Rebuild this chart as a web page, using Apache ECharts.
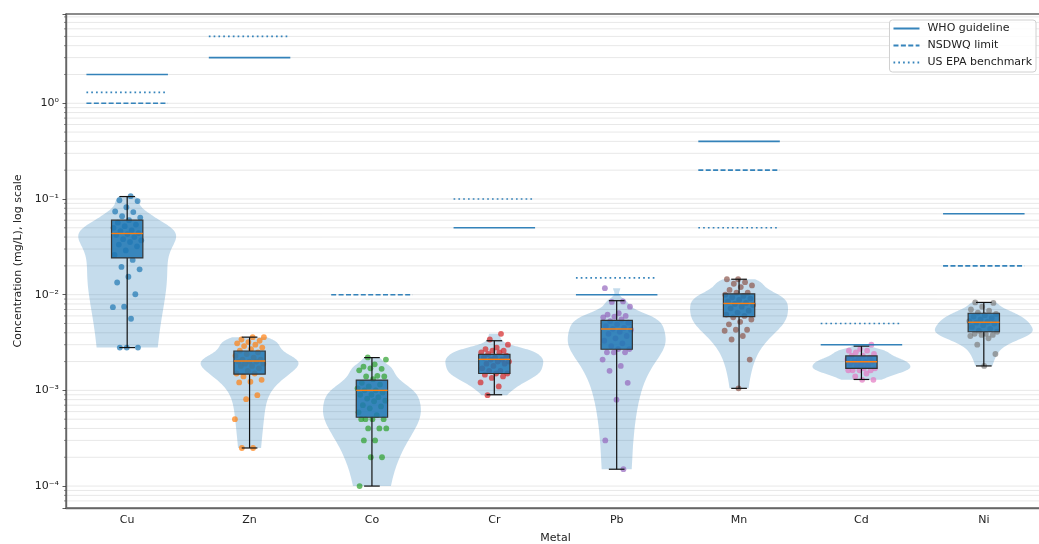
<!DOCTYPE html>
<html><head><meta charset="utf-8">
<script src="https://cdn.jsdelivr.net/npm/echarts@6/dist/echarts.min.js"></script>
<style>html,body{margin:0;padding:0;background:#fff;overflow:hidden}#chart{width:1039px;height:544px}</style>
</head><body><div id="chart"></div>
<script>
// ---------------- data ----------------
const metals = ['Cu', 'Zn', 'Co', 'Cr', 'Pb', 'Mn', 'Cd', 'Ni'];

const cuValues = [0.107,0.097,0.095,0.082,0.074,0.073,0.066,0.064,0.060,0.0565,0.054,0.052,0.050,0.047,0.046,0.044,0.043,0.042,0.040,0.038,0.037,0.0355,0.0334,0.032,0.029,0.026,0.0231,0.0195,0.0184,0.0154,0.0134,0.0101,0.0075,0.0074,0.0056,0.0028,0.0028,0.0028];
const znValues = [0.0036,0.0036,0.0034,0.0033,0.0032,0.0031,0.0030,0.0029,0.0028,0.0027,0.0026,0.0025,0.0024,0.0023,0.0022,0.0021,0.0021,0.0020,0.0020,0.0020,0.0019,0.0019,0.0018,0.0018,0.0017,0.0016,0.0015,0.0015,0.0014,0.00129,0.00123,0.00121,0.00089,0.00081,0.00050,0.00025,0.00025];
const coValues = [0.00221,0.0021,0.00187,0.00177,0.00168,0.0017,0.00162,0.00142,0.0014,0.0014,0.00131,0.0012,0.00115,0.0011,0.00105,0.001,0.001,0.00095,0.0009,0.0009,0.00085,0.00082,0.00078,0.00077,0.0007,0.00068,0.00065,0.00059,0.00055,0.0005,0.0005,0.0005,0.0005,0.0004,0.0004,0.0004,0.0003,0.0003,0.0002,0.0002,0.0001];
const crValues = [0.0039,0.0034,0.0030,0.0028,0.0027,0.0026,0.0026,0.0025,0.0025,0.0024,0.0023,0.0022,0.0022,0.0021,0.0021,0.0020,0.0020,0.0019,0.0019,0.0018,0.0017,0.0016,0.0016,0.0015,0.0015,0.00146,0.0014,0.00135,0.00121,0.0011,0.00089];
const pbValues = [0.0117,0.0085,0.0084,0.0075,0.0064,0.0062,0.0060,0.0059,0.0058,0.0055,0.0053,0.0051,0.0049,0.0047,0.0045,0.0044,0.0043,0.0041,0.0039,0.0037,0.0035,0.0033,0.0031,0.0029,0.0027,0.0027,0.0025,0.0025,0.0025,0.0021,0.0018,0.0016,0.0012,0.0008,0.0003,0.00015];
const mnValues = [0.0145,0.0145,0.0135,0.013,0.0125,0.012,0.0112,0.0105,0.0105,0.0100,0.0097,0.0094,0.0091,0.0088,0.0085,0.0082,0.0080,0.0078,0.0075,0.0072,0.0068,0.0065,0.0062,0.0060,0.0058,0.0055,0.0052,0.0049,0.0043,0.0043,0.0042,0.0037,0.0034,0.0021,0.00105];
const cdValues = [0.0030,0.0027,0.0026,0.0026,0.0025,0.0024,0.0023,0.0023,0.0022,0.0021,0.0021,0.0020,0.0020,0.0020,0.0019,0.0019,0.0018,0.0018,0.0017,0.0017,0.00162,0.00162,0.00162,0.00162,0.0015,0.0014,0.00129,0.00129];
const niValues = [0.0083,0.0082,0.0075,0.0070,0.0068,0.0065,0.0063,0.0061,0.0059,0.0057,0.0055,0.0053,0.0052,0.0051,0.0050,0.0048,0.0046,0.0044,0.0042,0.0041,0.0039,0.0039,0.0038,0.0038,0.0037,0.0035,0.0030,0.0024,0.0018];

// box statistics
const boxQ1     = [0.0242, 0.00148, 0.000524, 0.0015, 0.00269, 0.0059, 0.0017, 0.0041];
const boxMedian = [0.0436, 0.00203, 0.0010,   0.00211, 0.00438, 0.0081, 0.00199, 0.00515];
const boxQ3     = [0.060,  0.00258, 0.00128,  0.00238, 0.0054, 0.0102, 0.00229, 0.0064];
const whiskerLow  = [0.0028, 0.00025, 0.0001, 0.0009, 0.00015, 0.00105, 0.0013, 0.0018];
const whiskerHigh = [0.106, 0.0036, 0.0022, 0.0033, 0.00865, 0.0145, 0.0029, 0.0083];

// guideline values (mg/L); null = none
const whoGuideline = [2, 3, null, 0.05, 0.01, 0.4, 0.003, 0.07];
const nsdwqLimit   = [1, null, 0.01, null, null, 0.2, null, 0.02];
const epaBenchmark = [1.3, 5, null, 0.1, 0.015, 0.05, 0.005, null];

const yTickExponents = [-4, -3, -2, -1, 0];
const pointColors = ['#1f77b4','#ff7f0e','#2ca02c','#d62728','#9467bd','#8c564b','#e377c2','#7f7f7f'];

// ---------------- derived ----------------
const allValues = [cuValues, znValues, coValues, crValues, pbValues, mnValues, cdValues, niValues];
const FONT = 'DejaVu Sans';
const VIOLIN_HALF = 0.4, BOX_HALF = 0.128, CAP_HALF = 0.064, GUIDE_HALF = 0.333, BW_SCALE = 0.78;

function violinProfile(vals) {
  const n = vals.length;
  const mean = vals.reduce((a, b) => a + b, 0) / n;
  const sd = Math.sqrt(vals.reduce((a, b) => a + (b - mean) * (b - mean), 0) / (n - 1));
  const bw = sd * Math.pow(n, -0.2) * BW_SCALE;
  const lo = Math.min(...vals), hi = Math.max(...vals);
  const pts = [];
  for (let k = 0; k < 100; k++) {
    const y = lo + (hi - lo) * k / 99;
    let d = 0;
    for (const v of vals) d += Math.exp(-0.5 * ((y - v) / bw) * ((y - v) / bw));
    pts.push([y, d]);
  }
  const m = Math.max(...pts.map(p => p[1]));
  return pts.map(p => [p[0], p[1] / m * VIOLIN_HALF]);
}
const profiles = allValues.map(violinProfile);

const scatterData = [];
allValues.forEach((vals, i) => {
  vals.forEach((v, k) => {
    const jit = (((k + 1) * 0.6180339887 + i * 0.37) % 1 - 0.5) * 0.24;
    scatterData.push({ value: [i + jit, v], itemStyle: { color: pointColors[i] } });
  });
});

function guideData(arr) {
  const out = [];
  arr.forEach((v, i) => {
    if (v == null) return;
    out.push([i - GUIDE_HALF, v], [i + GUIDE_HALF, v], [i + 0.5, '-']);
  });
  return out;
}

const gridValues = [];
for (let e = -5; e <= 0; e++) for (let m = 1; m <= 9; m++) gridValues.push({ v: m * Math.pow(10, e), major: m === 1 });

const SUP = { '-': '\u207B', '0': '\u2070', '1': '\u00B9', '2': '\u00B2', '3': '\u00B3', '4': '\u2074', '5': '\u2075', '6': '\u2076', '7': '\u2077', '8': '\u2078', '9': '\u2079' };
function yLabel(val) {
  const l = Math.log10(val), e = Math.round(l);
  if (Math.abs(l - e) > 1e-6 || yTickExponents.indexOf(e) < 0) return '';
  return '10' + String(e).split('').map(c => SUP[c]).join('');
}

const chart = echarts.init(document.getElementById('chart'), null, { renderer: 'canvas' });
const GUIDE_COLOR = '#1f77b4';

chart.setOption({
  animation: false,
  backgroundColor: '#fff',
  grid: { left: 66, right: -6, top: 14, bottom: 36, outerBoundsMode: 'none', containLabel: false,
          show: true, borderColor: '#666', borderWidth: 1.4, backgroundColor: 'transparent' },
  legend: {
    orient: 'vertical', right: 3, top: 20,
    itemWidth: 26, itemHeight: 12, itemGap: 6,
    padding: [3, 4, 4, 3],
    backgroundColor: 'rgba(255,255,255,0.85)', borderColor: '#d0d0d0', borderWidth: 1, borderRadius: 3,
    itemStyle: { opacity: 0 },
    textStyle: { fontFamily: FONT, fontSize: 11, color: '#222', padding: [0, 0, 0, 3] },
    data: ['WHO guideline', 'NSDWQ limit', 'US EPA benchmark']
  },
  xAxis: [
    {
      type: 'category', data: metals, boundaryGap: true,
      axisLine: { lineStyle: { color: '#666', width: 1.4 } },
      axisTick: { alignWithLabel: true, length: 3.5, lineStyle: { color: '#333', width: 0.8 } },
      axisLabel: { fontFamily: FONT, fontSize: 11, color: '#222', margin: 7 },
      splitLine: { show: false },
      name: 'Metal', nameLocation: 'middle', nameGap: 25,
      nameTextStyle: { fontFamily: FONT, fontSize: 11, color: '#222' }
    },
    { type: 'value', min: -0.5, max: 7.5, show: false }
  ],
  yAxis: {
    type: 'log', logBase: 10, min: 5.9e-5, max: 8.57,
    axisLine: { show: true, onZero: false, lineStyle: { color: '#666', width: 1.4 } },
    axisTick: { show: true, length: 3.5, lineStyle: { color: '#333', width: 0.8 } },
    axisLabel: { formatter: yLabel, fontFamily: FONT, fontSize: 11, color: '#222', margin: 7 },
    splitLine: { show: false },
    name: 'Concentration (mg/L), log scale', nameLocation: 'middle', nameGap: 38,
    nameTextStyle: { fontFamily: FONT, fontSize: 11, color: '#222' }
  },
  series: [
    {
      type: 'custom', name: 'grid', xAxisIndex: 1, z: 0, silent: true, clip: false,
      data: [[0, 1]], encode: { x: 0, y: 1 },
      renderItem(params, api) {
        const cs = params.coordSys;
        const children = [];
        gridValues.forEach(g => {
          const y = api.coord([0, g.v])[1];
          if (y < cs.y + 1 || y > cs.y + cs.height - 1) return;
          children.push({ type: 'line', shape: { x1: cs.x, y1: y, x2: cs.x + cs.width, y2: y }, style: { stroke: '#e8e8e8', lineWidth: 1 } });
          if (!g.major) children.push({ type: 'line', shape: { x1: cs.x - 2, y1: y, x2: cs.x, y2: y }, style: { stroke: '#444', lineWidth: 0.6 } });
        });
        return { type: 'group', children };
      }
    },
    {
      type: 'custom', name: 'violins', xAxisIndex: 1, z: 1, silent: true,
      data: metals.map((m, i) => [i, Math.min(...allValues[i]), Math.max(...allValues[i])]),
      encode: { x: 0, y: [1, 2] },
      renderItem(params, api) {
        const i = api.value(0);
        const prof = profiles[i];
        const left = prof.map(p => api.coord([i - p[1], p[0]]));
        const right = prof.slice().reverse().map(p => api.coord([i + p[1], p[0]]));
        return { type: 'polygon', shape: { points: left.concat(right) }, style: { fill: 'rgba(31,119,180,0.26)' } };
      }
    },
    {
      type: 'scatter', name: 'samples', xAxisIndex: 1, z: 2, silent: true,
      symbol: 'circle', symbolSize: 5.8,
      itemStyle: { opacity: 0.7 },
      data: scatterData
    },
    {
      type: 'custom', name: 'boxes', xAxisIndex: 1, z: 3, silent: true,
      data: metals.map((m, i) => [i, boxQ1[i], boxMedian[i], boxQ3[i], whiskerLow[i], whiskerHigh[i]]),
      encode: { x: 0, y: [1, 2, 3, 4, 5] },
      renderItem(params, api) {
        const i = api.value(0);
        const q1 = api.value(1), med = api.value(2), q3 = api.value(3), lo = api.value(4), hi = api.value(5);
        const cx = api.coord([i, med])[0];
        const xl = api.coord([i - BOX_HALF, med])[0], xr = api.coord([i + BOX_HALF, med])[0];
        const cl = api.coord([i - CAP_HALF, med])[0], cr = api.coord([i + CAP_HALF, med])[0];
        const yq1 = api.coord([i, q1])[1], yq3 = api.coord([i, q3])[1], ym = api.coord([i, med])[1];
        const ylo = api.coord([i, lo])[1], yhi = api.coord([i, hi])[1];
        const wl = { stroke: '#111', lineWidth: 1.2 };
        return {
          type: 'group', children: [
            { type: 'line', shape: { x1: cx, y1: ylo, x2: cx, y2: yq1 }, style: wl },
            { type: 'line', shape: { x1: cx, y1: yq3, x2: cx, y2: yhi }, style: wl },
            { type: 'line', shape: { x1: cl, y1: ylo, x2: cr, y2: ylo }, style: wl },
            { type: 'line', shape: { x1: cl, y1: yhi, x2: cr, y2: yhi }, style: wl },
            { type: 'rect', shape: { x: xl, y: yq3, width: xr - xl, height: yq1 - yq3 }, style: { fill: 'rgba(31,119,180,0.85)', stroke: '#333', lineWidth: 1.2 } },
            { type: 'line', shape: { x1: xl, y1: ym, x2: xr, y2: ym }, style: { stroke: '#ff7f0e', lineWidth: 1.4 } }
          ]
        };
      }
    },
    {
      type: 'line', name: 'WHO guideline', xAxisIndex: 1, z: 4, symbol: 'none', connectNulls: false, silent: true,
      lineStyle: { color: GUIDE_COLOR, width: 1.6, type: 'solid', opacity: 0.9 }, itemStyle: { color: GUIDE_COLOR },
      data: guideData(whoGuideline)
    },
    {
      type: 'line', name: 'NSDWQ limit', xAxisIndex: 1, z: 4, symbol: 'none', connectNulls: false, silent: true,
      lineStyle: { color: GUIDE_COLOR, width: 1.6, type: [5, 2.4], opacity: 0.9 }, itemStyle: { color: GUIDE_COLOR },
      data: guideData(nsdwqLimit)
    },
    {
      type: 'line', name: 'US EPA benchmark', xAxisIndex: 1, z: 4, symbol: 'none', connectNulls: false, silent: true,
      lineStyle: { color: GUIDE_COLOR, width: 1.6, type: [1.7, 3.1], opacity: 0.9 }, itemStyle: { color: GUIDE_COLOR },
      data: guideData(epaBenchmark)
    }
  ]
});
</script></body></html>
